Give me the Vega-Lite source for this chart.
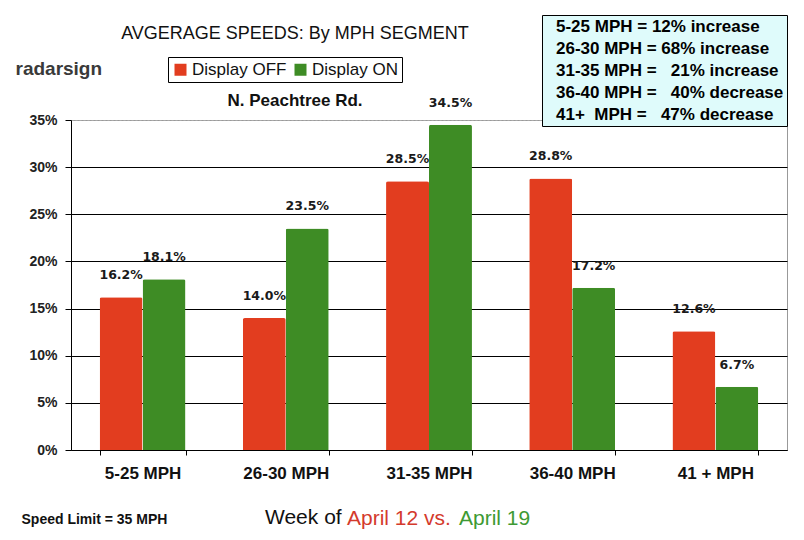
{
  "$schema": "https://vega.github.io/schema/vega-lite/v6.json",
  "autosize": "none",
  "width": 716,
  "height": 330,
  "padding": {"left": 71, "top": 120, "right": 17, "bottom": 90},
  "background": "white",
  "config": {
    "view": {"stroke": "#999999", "strokeWidth": 1},
    "font": "Liberation Sans"
  },
  "title": {
    "text": "AVGERAGE SPEEDS: By MPH SEGMENT",
    "subtitle": "N. Peachtree Rd.",
    "anchor": "middle",
    "frame": "group",
    "dx": -134,
    "offset": -94,
    "font": "Liberation Sans",
    "fontSize": 18,
    "fontWeight": "normal",
    "color": "#111111",
    "subtitleFont": "Liberation Sans",
    "subtitleFontSize": 17,
    "subtitleFontWeight": "bold",
    "subtitleColor": "#111111",
    "subtitlePadding": 50
  },
  "data": {
    "values": [
      {"category": "5-25 MPH", "series": "Display OFF", "week": "April 12 vs.", "change": "5-25 MPH = 12% increase", "value": 0.162},
      {"category": "5-25 MPH", "series": "Display ON", "week": "April 19", "change": "5-25 MPH = 12% increase", "value": 0.181},
      {"category": "26-30 MPH", "series": "Display OFF", "week": "April 12 vs.", "change": "26-30 MPH = 68% increase", "value": 0.140},
      {"category": "26-30 MPH", "series": "Display ON", "week": "April 19", "change": "26-30 MPH = 68% increase", "value": 0.235},
      {"category": "31-35 MPH", "series": "Display OFF", "week": "April 12 vs.", "change": "31-35 MPH =\u00a0\u00a0\u00a021% increase", "value": 0.285},
      {"category": "31-35 MPH", "series": "Display ON", "week": "April 19", "change": "31-35 MPH =\u00a0\u00a0\u00a021% increase", "value": 0.345},
      {"category": "36-40 MPH", "series": "Display OFF", "week": "April 12 vs.", "change": "36-40 MPH =\u00a0\u00a0\u00a040% decrease", "value": 0.288},
      {"category": "36-40 MPH", "series": "Display ON", "week": "April 19", "change": "36-40 MPH =\u00a0\u00a0\u00a040% decrease", "value": 0.172},
      {"category": "41 +  MPH", "series": "Display OFF", "week": "April 12 vs.", "change": "41+\u00a0\u00a0MPH =\u00a0\u00a0\u00a047% decrease", "value": 0.126},
      {"category": "41 +  MPH", "series": "Display ON", "week": "April 19", "change": "41+\u00a0\u00a0MPH =\u00a0\u00a0\u00a047% decrease", "value": 0.067}
    ]
  },
  "encoding": {
    "x": {
      "field": "category",
      "type": "nominal",
      "sort": ["5-25 MPH", "26-30 MPH", "31-35 MPH", "36-40 MPH", "41 +  MPH"],
      "scale": {"paddingInner": 0.4, "paddingOuter": 0.2},
      "axis": {
        "title": "Speed Limit = 35 MPH",
        "titleX": -50,
        "titleY": 69,
        "titleAlign": "left",
        "titleAnchor": "start",
        "titleBaseline": "middle",
        "titleFont": "Liberation Sans",
        "titleFontSize": 14,
        "titleFontWeight": "bold",
        "titleColor": "#111111",
        "labelAngle": 0,
        "labelFont": "Liberation Sans",
        "labelFontSize": 17,
        "labelFontWeight": "bold",
        "labelColor": "#111111",
        "labelPadding": 10,
        "tickBand": "extent",
        "tickSize": 5,
        "tickColor": "#000000",
        "domainColor": "#000000",
        "grid": false
      }
    },
    "xOffset": {"field": "series", "type": "nominal", "scale": {"domain": ["Display OFF", "Display ON"]}},
    "y": {
      "field": "value",
      "type": "quantitative",
      "scale": {"domain": [0, 0.35], "nice": false},
      "axis": {
        "values": [0, 0.05, 0.1, 0.15, 0.2, 0.25, 0.3, 0.35],
        "format": ".0%",
        "title": "radarsign",
        "titleX": -56,
        "titleY": -52,
        "titleAngle": 0,
        "titleAlign": "left",
        "titleBaseline": "middle",
        "titleFont": "Liberation Sans",
        "titleFontSize": 19,
        "titleFontWeight": "bold",
        "titleColor": "#3a3a3a",
        "labelFont": "Liberation Sans",
        "labelFontSize": 14,
        "labelFontWeight": "bold",
        "labelColor": "#222222",
        "labelPadding": 8,
        "tickSize": 6,
        "tickColor": "#000000",
        "domainColor": "#000000",
        "grid": true,
        "gridColor": {"condition": {"test": "datum.value > 0.34", "value": "#aaaaaa"}, "value": "#000000"},
        "gridDash": {"condition": {"test": "datum.value > 0.34", "value": [2, 2]}, "value": []},
        "gridOpacity": 1
      }
    }
  },
  "resolve": {"scale": {"opacity": "independent"}, "legend": {"opacity": "independent"}},
  "layer": [
    {
      "mark": {"type": "bar", "cornerRadiusTopLeft": 2, "cornerRadiusTopRight": 2},
      "encoding": {
        "color": {
          "field": "series",
          "type": "nominal",
          "scale": {"domain": ["Display OFF", "Display ON"], "range": ["#E23D1F", "#3E8C25"]},
          "legend": {
            "title": null,
            "orient": "none",
            "legendX": 97,
            "legendY": -63,
            "direction": "horizontal",
            "symbolType": "square",
            "symbolSize": 144,
            "symbolStrokeWidth": 0,
            "symbolOpacity": 1,
            "labelFont": "Liberation Sans",
            "labelFontSize": 17,
            "labelColor": "#111111",
            "labelOffset": 3,
            "labelLimit": 200,
            "columnPadding": 5,
            "padding": 4,
            "strokeColor": "#000000",
            "fillColor": "white"
          }
        },
        "opacity": {
          "field": "week",
          "type": "ordinal",
          "scale": {"domain": ["April 12 vs.", "April 19"], "range": [1, 1]},
          "legend": {
            "title": "Week of",
            "titleOrient": "left",
            "titleFont": "Liberation Sans",
            "titleFontSize": 21,
            "titleFontWeight": "normal",
            "titleColor": "#111111",
            "titlePadding": 8,
            "titleBaseline": "middle",
            "orient": "none",
            "legendX": 194,
            "legendY": 388,
            "direction": "horizontal",
            "symbolSize": 0,
            "symbolOpacity": 0,
            "symbolStrokeWidth": 0,
            "labelOffset": -24,
            "columnPadding": 8,
            "labelFont": "Liberation Sans",
            "labelFontSize": 21,
            "labelLimit": 300,
            "labelColor": {"expr": "datum.value == 'April 12 vs.' ? '#D43A2C' : '#3E9A33'"},
            "encode": {
              "labels": {"update": {"fill": {"signal": "datum.value == 'April 12 vs.' ? '#D43A2C' : '#3E9A33'"}}}
            }
          }
        }
      }
    },
    {
      "mark": {"type": "text", "baseline": "middle", "dy": -22, "font": "DejaVu Sans", "fontSize": 12.5, "fontWeight": "bold", "color": "#1a1a1a"},
      "encoding": {
        "text": {"field": "value", "type": "quantitative", "format": ".1%"},
        "opacity": {
          "field": "change",
          "type": "ordinal",
          "scale": {
            "domain": ["5-25 MPH = 12% increase", "26-30 MPH = 68% increase", "31-35 MPH =\u00a0\u00a0\u00a021% increase", "36-40 MPH =\u00a0\u00a0\u00a040% decrease", "41+\u00a0\u00a0MPH =\u00a0\u00a0\u00a047% decrease"],
            "range": [1, 1]
          },
          "legend": {
            "title": null,
            "orient": "none",
            "legendX": 471,
            "legendY": -105,
            "direction": "vertical",
            "symbolSize": 0,
            "symbolOpacity": 0,
            "symbolStrokeWidth": 0,
            "labelOffset": -6,
            "rowPadding": 4,
            "padding": 3,
            "labelFont": "Liberation Sans",
            "labelFontSize": 17,
            "labelFontWeight": "bold",
            "labelLimit": 300,
            "strokeColor": "#000000",
            "fillColor": "#DFFBFB",
            "encode": {
              "labels": {"update": {"fill": {"signal": "indexof(datum.value, 'increase') >= 0 ? '#2C821C' : '#CC281D'"}}}
            }
          }
        }
      }
    }
  ]
}
